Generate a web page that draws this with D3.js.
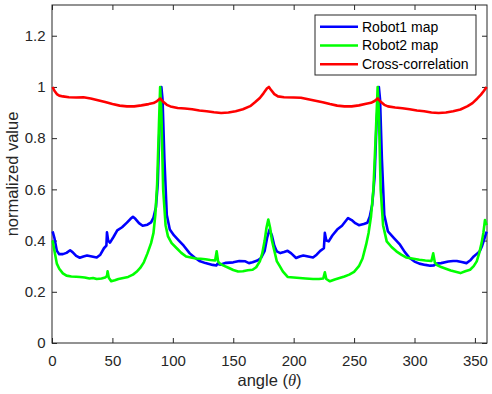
<!DOCTYPE html>
<html>
<head>
	<meta charset="UTF-8">
	<title>Robot map cross-correlation</title>
	<script type="text/javascript" src="https://cdn.jsdelivr.net/npm/d3@7"></script>
	<style>
		body { margin: 0; background: #fff; }
		text { font-family: "Liberation Sans", Arial, Helvetica, sans-serif; }
	</style>
</head>
<body>

<script type="text/javascript">
	var w = 492;
	var h = 394;

	var margin = {
		top: 5,
		bottom: 51,
		left: 52,
		right: 5
	};

	var height = h - margin.top - margin.bottom;
	var width = w - margin.left - margin.right;

	// data
	var xTicks = [0, 50, 100, 150, 200, 250, 300, 350];
	var yTicks = [0, 0.2, 0.4, 0.6, 0.8, 1, 1.2];
	var seriesNames = ["Robot1 map", "Robot2 map", "Cross-correlation"];
	var seriesColors = ["#0000ff", "#00ff00", "#ff0000"];

	var robot1Angles = [0.5, 2, 4, 6, 9, 12, 15, 17, 20, 23, 26, 29, 33, 37, 40, 43, 45, 45.5, 46.5, 48, 51, 54, 58, 62, 65, 67, 69, 72, 75, 79, 82, 84, 86, 87.5, 89, 90.5, 91.5, 93, 95, 97.5,
		101, 105, 109, 114, 118, 122, 127, 133, 136, 137, 139, 144, 150, 155, 160, 163, 166, 170, 173, 176, 178, 180, 182, 184, 186, 189, 192, 195, 198,
		202, 205, 208, 212, 216, 219, 222, 225, 225.8, 227, 229, 232, 236, 240, 245, 248, 251, 254, 258, 261, 263, 265, 267, 268.5, 270.5, 271.5, 273, 275, 278,
		283, 288, 292, 296, 300, 304, 309, 313, 316, 318, 322, 328, 332, 335, 339, 343, 346, 349, 352, 354, 356, 358, 359.7];
	var robot1Values = [0.436, 0.41, 0.36, 0.347, 0.347, 0.352, 0.362, 0.355, 0.34, 0.333, 0.338, 0.342, 0.338, 0.334, 0.345, 0.37, 0.38, 0.432, 0.40, 0.392, 0.415, 0.44, 0.452, 0.47, 0.485, 0.493, 0.485, 0.468, 0.458, 0.462, 0.471, 0.49, 0.53, 0.62, 0.85, 1.0, 0.95, 0.72, 0.5, 0.443,
		0.42, 0.40, 0.38, 0.35, 0.334, 0.32, 0.312, 0.305, 0.303, 0.31, 0.306, 0.313, 0.315, 0.32, 0.319, 0.312, 0.315, 0.322, 0.332, 0.36, 0.41, 0.443, 0.42, 0.38, 0.358, 0.351, 0.355, 0.36, 0.35,
		0.332, 0.338, 0.342, 0.338, 0.334, 0.345, 0.36, 0.37, 0.43, 0.40, 0.397, 0.42, 0.443, 0.458, 0.488, 0.48, 0.468, 0.46, 0.465, 0.47, 0.494, 0.54, 0.65, 0.85, 1.0, 0.95, 0.72, 0.5, 0.436,
		0.41, 0.384, 0.355, 0.332, 0.318, 0.31, 0.305, 0.302, 0.303, 0.31, 0.312, 0.318, 0.32, 0.32, 0.316, 0.312, 0.322, 0.338, 0.35, 0.358, 0.38, 0.41, 0.435];

	var robot2Angles = [0.5, 2, 4, 6, 9, 12, 16, 20, 23, 27, 31, 34, 37, 41, 44, 45.5, 46, 47, 49, 52, 55, 59, 63, 67, 70, 73, 76, 79, 82, 84, 85.5, 87, 88.5, 89.5, 90.5, 92, 94, 96, 99,
		103, 107, 111, 115, 119, 123, 127, 131, 135, 136.3, 137.5, 139, 142, 146, 150, 154, 158, 162, 166, 169, 172, 174, 176, 177.5, 179, 180.5, 182, 184, 186, 188.5, 191, 195,
		200, 205, 210, 216, 221, 224.5, 225.8, 227, 230, 234, 238, 242, 246, 250, 254, 257, 260, 262, 264, 266, 268, 269.5, 270.5, 272, 274, 277,
		281, 285, 289, 293, 298, 304, 309, 314, 315.5, 316.8, 319, 322, 326, 330, 334, 338, 342, 346, 349, 351.5, 353.5, 355.5, 357, 358.3, 359.7];
	var robot2Values = [0.40, 0.36, 0.31, 0.29, 0.272, 0.263, 0.26, 0.259, 0.258, 0.256, 0.252, 0.254, 0.25, 0.252, 0.256, 0.262, 0.28, 0.255, 0.241, 0.245, 0.25, 0.254, 0.258, 0.267, 0.278, 0.293, 0.315, 0.35, 0.39, 0.43, 0.5, 0.62, 0.85, 1.0, 0.9, 0.6, 0.46, 0.416, 0.39,
		0.371, 0.352, 0.338, 0.334, 0.33, 0.329, 0.327, 0.324, 0.322, 0.358, 0.318, 0.31, 0.302, 0.294, 0.285, 0.279, 0.28, 0.284, 0.286, 0.296, 0.319, 0.35, 0.40, 0.45, 0.482, 0.45, 0.40, 0.36, 0.32, 0.30, 0.28, 0.258,
		0.256, 0.254, 0.252, 0.25, 0.25, 0.252, 0.276, 0.25, 0.241, 0.248, 0.254, 0.26, 0.267, 0.278, 0.30, 0.33, 0.385, 0.43, 0.494, 0.6, 0.82, 1.0, 0.9, 0.6, 0.46, 0.397,
		0.375, 0.358, 0.345, 0.334, 0.33, 0.325, 0.322, 0.32, 0.35, 0.315, 0.303, 0.297, 0.29, 0.283, 0.278, 0.273, 0.28, 0.286, 0.30, 0.319, 0.35, 0.39, 0.43, 0.48, 0.46];

	var crossAngles = [0.5, 2, 4, 6, 9, 14, 20, 26, 32, 38, 44, 50, 56, 62, 68, 74, 80, 84, 87, 89.5, 92, 95, 98,
		104, 110, 116, 122, 128, 134, 140, 146, 152, 158, 164, 168, 172, 175, 178, 179.5, 181, 184, 187, 192,
		200, 206, 212, 218, 224, 230, 236, 242, 248, 254, 260, 264, 267, 269.5, 272, 275, 278,
		284, 290, 296, 302, 308, 314, 320, 326, 332, 338, 344, 348, 352, 355, 357.5, 359.7];
	var crossValues = [1.0, 0.985, 0.972, 0.966, 0.963, 0.96, 0.959, 0.96, 0.955, 0.948, 0.941, 0.933, 0.927, 0.924, 0.924, 0.928, 0.933, 0.937, 0.945, 0.955, 0.942, 0.93, 0.924,
		0.918, 0.916, 0.913, 0.908, 0.905, 0.901, 0.898, 0.9, 0.905, 0.913, 0.925, 0.94, 0.957, 0.975, 0.995, 1.0, 0.99, 0.972, 0.963, 0.96,
		0.959, 0.958, 0.952, 0.946, 0.94, 0.933, 0.927, 0.924, 0.924, 0.928, 0.934, 0.938, 0.945, 0.955, 0.942, 0.93, 0.924,
		0.92, 0.917, 0.913, 0.908, 0.905, 0.9, 0.898, 0.9, 0.905, 0.912, 0.925, 0.937, 0.955, 0.97, 0.985, 1.0];

	var series = [
		{ angles: robot1Angles, values: robot1Values },
		{ angles: robot2Angles, values: robot2Values },
		{ angles: crossAngles, values: crossValues }
	];

	var x = d3.scaleLinear()
		.domain([0, 360])
		.range([0, width]);

	var y = d3.scaleLinear()
		.domain([0, 1.32])
		.range([height, 0]);

	var svg = d3.select("body")
		.append("svg")
		.attr("width", w)
		.attr("height", h);

	svg.append("rect")
		.attr("width", w)
		.attr("height", h)
		.attr("fill", "#fff");

	var chart = svg.append("g")
		.attr("transform", "translate(" + margin.left + "," + margin.top + ")");

	// axes, ticks pointing inward like matlab
	var xAxis = chart.append("g")
		.attr("transform", "translate(0," + height + ")")
		.call(d3.axisBottom(x).tickValues(xTicks).tickSizeInner(-5).tickSizeOuter(0).tickPadding(12));

	var xTop = chart.append("g")
		.call(d3.axisTop(x).tickValues(xTicks).tickSizeInner(-5).tickSizeOuter(0).tickFormat(""));

	var yAxis = chart.append("g")
		.call(d3.axisLeft(y).tickValues(yTicks).tickSizeInner(-5).tickSizeOuter(0).tickPadding(6.5)
			.tickFormat(function(d){ return d3.format("")(d); }));

	var yRight = chart.append("g")
		.attr("transform", "translate(" + width + ",0)")
		.call(d3.axisRight(y).tickValues(yTicks).tickSizeInner(-5).tickSizeOuter(0).tickFormat(""));

	chart.selectAll(".domain").remove();
	chart.selectAll(".tick line").attr("stroke", "#262626");
	chart.selectAll(".tick text")
		.attr("fill", "#262626")
		.style("font-size", "15px");

	chart.append("rect")
		.attr("width", width)
		.attr("height", height)
		.attr("fill", "none")
		.attr("stroke", "#262626")
		.attr("stroke-width", 1);

	var line = d3.line()
		.x(function(d){ return x(d[0]); })
		.y(function(d){ return y(d[1]); });

	chart.selectAll(".series")
		.data(series)
		.enter()
		.append("path")
		.classed("series", true)
		.attr("d", function(s){
			return line(s.angles.map(function(a, i){ return [a, s.values[i]]; }));
		})
		.attr("fill", "none")
		.attr("stroke", function(s, i){ return seriesColors[i]; })
		.attr("stroke-width", 2.6)
		.attr("stroke-linejoin", "round");

	// axis labels
	var xLabel = chart.append("text")
		.attr("x", width / 2)
		.attr("y", height + 43)
		.attr("text-anchor", "middle")
		.attr("fill", "#262626")
		.style("font-size", "16.5px");
	xLabel.append("tspan").text("angle (");
	xLabel.append("tspan").text("\u03b8")
		.style("font-family", "'Liberation Serif', 'DejaVu Serif', serif")
		.style("font-style", "italic");
	xLabel.append("tspan").text(")");

	chart.append("text")
		.attr("transform", "translate(" + (-34) + "," + (height / 2) + ") rotate(-90)")
		.attr("text-anchor", "middle")
		.attr("fill", "#262626")
		.style("font-size", "16.5px")
		.text("normalized value");

	// legend
	var legend = svg.append("g")
		.attr("transform", "translate(315,15)");

	legend.append("rect")
		.attr("width", 161)
		.attr("height", 60)
		.attr("fill", "#fff")
		.attr("stroke", "#262626")
		.attr("stroke-width", 1);

	var item = legend.selectAll(".item")
		.data(seriesNames)
		.enter()
		.append("g")
		.classed("item", true)
		.attr("transform", function(d, i){ return "translate(0," + (11.7 + i * 18.8) + ")"; });

	item.append("line")
		.attr("x1", 5)
		.attr("x2", 43)
		.attr("stroke", function(d, i){ return seriesColors[i]; })
		.attr("stroke-width", 2.6);

	item.append("text")
		.attr("x", 47)
		.attr("dy", "0.35em")
		.attr("fill", "#000")
		.style("font-size", "14px")
		.text(function(d){ return d; });
</script>

</body>
</html>
